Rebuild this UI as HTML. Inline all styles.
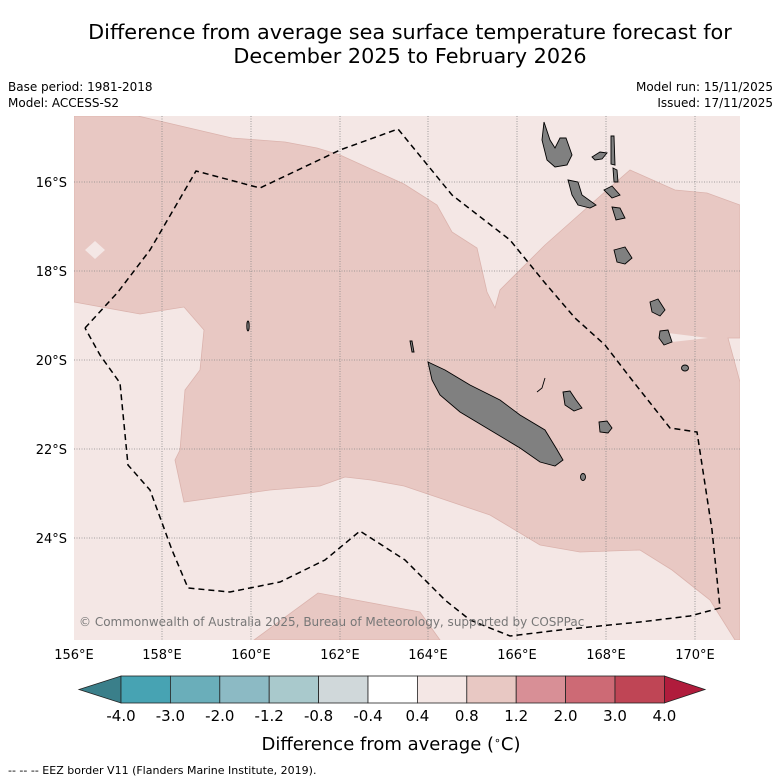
<!DOCTYPE html>
<html><head><meta charset="utf-8"><style>
body{margin:0;background:#fff;font-family:"DejaVu Sans","Liberation Sans",sans-serif;}
svg{display:block}
</style></head><body>
<svg width="781" height="781" xmlns="http://www.w3.org/2000/svg" font-family="DejaVu Sans, Liberation Sans, sans-serif">
<rect width="781" height="781" fill="#fff"/>
<text x="410" y="39" font-size="20.8" text-anchor="middle">Difference from average sea surface temperature forecast for</text>
<text x="410" y="63" font-size="20.8" text-anchor="middle">December 2025 to February 2026</text>
<text x="8" y="91" font-size="12">Base period: 1981-2018</text>
<text x="8" y="107" font-size="12">Model: ACCESS-S2</text>
<text x="773" y="91" font-size="12" text-anchor="end">Model run: 15/11/2025</text>
<text x="773" y="107" font-size="12" text-anchor="end">Issued: 17/11/2025</text>
<g>
<clipPath id="mc"><rect x="74" y="116" width="666" height="524"/></clipPath>
<g clip-path="url(#mc)">
<rect x="74" y="116" width="666" height="524" fill="#f4e7e5"/>
<polygon fill="#e8c8c3" stroke="#dbb3ad" stroke-width="0.8" points="74,116 138,116 232,138 285,142 317,148 340,155 404,184 437,205 452,232 477,248 487,292 495,308 500,290 545,245 607,190 630,170 675,190 707,193 740,205 740,338 728,338 740,382 740,640 735,640 710,600 672,570 640,550 580,552 540,545 490,515 404,486 371,480 345,477 320,486 270,490 184,502 175,460 180,450 185,390 200,370 204,330 184,307 140,314 74,302"/>
<polygon fill="#f4e7e5" points="85,250 95,241 105,250 95,259"/>
<polygon fill="#f4e7e5" points="668,333 708,338 672,342"/>
<polygon fill="#e8c8c3" stroke="#dbb3ad" stroke-width="0.8" points="254,640 318,593 345,598 420,612 440,640"/>
<g stroke="#888" stroke-width="0.8" stroke-dasharray="1,1.5">
<line x1="162" y1="116" x2="162" y2="640"/><line x1="251" y1="116" x2="251" y2="640"/><line x1="340" y1="116" x2="340" y2="640"/><line x1="428" y1="116" x2="428" y2="640"/><line x1="517" y1="116" x2="517" y2="640"/><line x1="606" y1="116" x2="606" y2="640"/><line x1="695" y1="116" x2="695" y2="640"/>
<line x1="74" y1="182" x2="740" y2="182"/><line x1="74" y1="271" x2="740" y2="271"/><line x1="74" y1="360" x2="740" y2="360"/><line x1="74" y1="449" x2="740" y2="449"/><line x1="74" y1="538" x2="740" y2="538"/>
</g>
<g fill="#808080" stroke="#000" stroke-width="0.9">
<polygon points="428,362 445,370 470,385 500,400 520,415 545,430 556,448 563,460 555,466 540,462 520,448 490,430 460,412 440,395 432,380"/>
<polygon points="544,122 550,140 555,148 560,138 566,138 572,155 567,165 555,167 547,160 542,140"/>
<polygon points="568,180 578,182 582,195 596,205 590,208 578,205 572,195"/>
<polygon points="592,157 600,152 607,153 602,159 595,160"/>
<polygon points="611,136 614,136 615,165 611,164"/>
<polygon points="613,168 617,170 618,182 614,182"/>
<polygon points="604,190 612,186 620,195 612,198"/>
<polygon points="612,207 620,208 625,218 616,220"/>
<polygon points="614,250 625,247 632,258 625,264 617,262"/>
<polygon points="650,302 658,299 665,310 660,316 652,312"/>
<polygon points="660,331 668,330 672,342 664,345 659,338"/>
<ellipse cx="685" cy="368" rx="3.5" ry="3"/>
<polygon points="563,392 570,391 576,400 582,408 574,411 565,405"/>
<polygon points="599,422 607,421 612,428 608,433 600,432"/>
<ellipse cx="583" cy="477" rx="2.5" ry="3.5"/>
<ellipse cx="248" cy="326" rx="1.2" ry="5"/>
<polygon points="410,341 412,341 414,352 412,352"/>
<path d="M545,378 L542,388 L537,392" fill="none"/>
</g>
<polyline fill="none" stroke="#000" stroke-width="1.5" stroke-dasharray="6,4" points="85,328 118,292 150,250 196,171 260,188 340,150 398,129 452,195 510,240 545,283 575,318 605,345 632,380 670,428 697,432 712,530 720,608 690,616 640,622 560,630 510,636 470,620 445,600 405,560 360,531 325,560 280,582 230,592 188,588 172,550 150,490 128,465 120,383 100,355 85,328"/>
<text x="79" y="626" font-size="12" fill="#777">© Commonwealth of Australia 2025, Bureau of Meteorology, supported by COSPPac</text>
</g>
</g>
<g font-size="13">
<text x="67" y="187" text-anchor="end">16°S</text><text x="67" y="276" text-anchor="end">18°S</text><text x="67" y="365" text-anchor="end">20°S</text><text x="67" y="454" text-anchor="end">22°S</text><text x="67" y="543" text-anchor="end">24°S</text>
</g>
<g font-size="13" text-anchor="middle">
<text x="74" y="659">156°E</text><text x="162" y="659">158°E</text><text x="251" y="659">160°E</text><text x="340" y="659">162°E</text><text x="428" y="659">164°E</text><text x="517" y="659">166°E</text><text x="606" y="659">168°E</text><text x="695" y="659">170°E</text>
</g>
<g stroke="#222" stroke-width="0.8">
<polygon points="79,689.5 121,676 121,703" fill="#3a7f8a"/>
<rect x="121" y="676" width="49.4" height="27" fill="#47a3b3"/>
<rect x="170.4" y="676" width="49.4" height="27" fill="#6aaeba"/>
<rect x="219.8" y="676" width="49.4" height="27" fill="#8cbac4"/>
<rect x="269.2" y="676" width="49.4" height="27" fill="#a9c9cc"/>
<rect x="318.6" y="676" width="49.4" height="27" fill="#d0d8da"/>
<rect x="368" y="676" width="49.4" height="27" fill="#ffffff"/>
<rect x="417.4" y="676" width="49.4" height="27" fill="#f4e7e5"/>
<rect x="466.8" y="676" width="49.4" height="27" fill="#e8c8c3"/>
<rect x="516.2" y="676" width="49.4" height="27" fill="#d88f96"/>
<rect x="565.6" y="676" width="49.4" height="27" fill="#cd6a75"/>
<rect x="615" y="676" width="49.4" height="27" fill="#bf4555"/>
<polygon points="664.4,676 705,689.5 664.4,703" fill="#b01c3c"/>
</g>
<g font-size="15" text-anchor="middle">
<text x="121" y="721">-4.0</text><text x="170.4" y="721">-3.0</text><text x="219.8" y="721">-2.0</text><text x="269.2" y="721">-1.2</text><text x="318.6" y="721">-0.8</text><text x="368" y="721">-0.4</text><text x="417.4" y="721">0.4</text><text x="466.8" y="721">0.8</text><text x="516.2" y="721">1.2</text><text x="565.6" y="721">2.0</text><text x="615" y="721">3.0</text><text x="664.4" y="721">4.0</text>
</g>
<text x="391" y="750" font-size="18" text-anchor="middle">Difference from average (<tspan font-size="11" dy="-6">∘</tspan><tspan dy="6">C)</tspan></text>
<text x="8" y="774" font-size="11">--  --  -- EEZ border V11 (Flanders Marine Institute, 2019).</text>
</svg>
</body></html>
